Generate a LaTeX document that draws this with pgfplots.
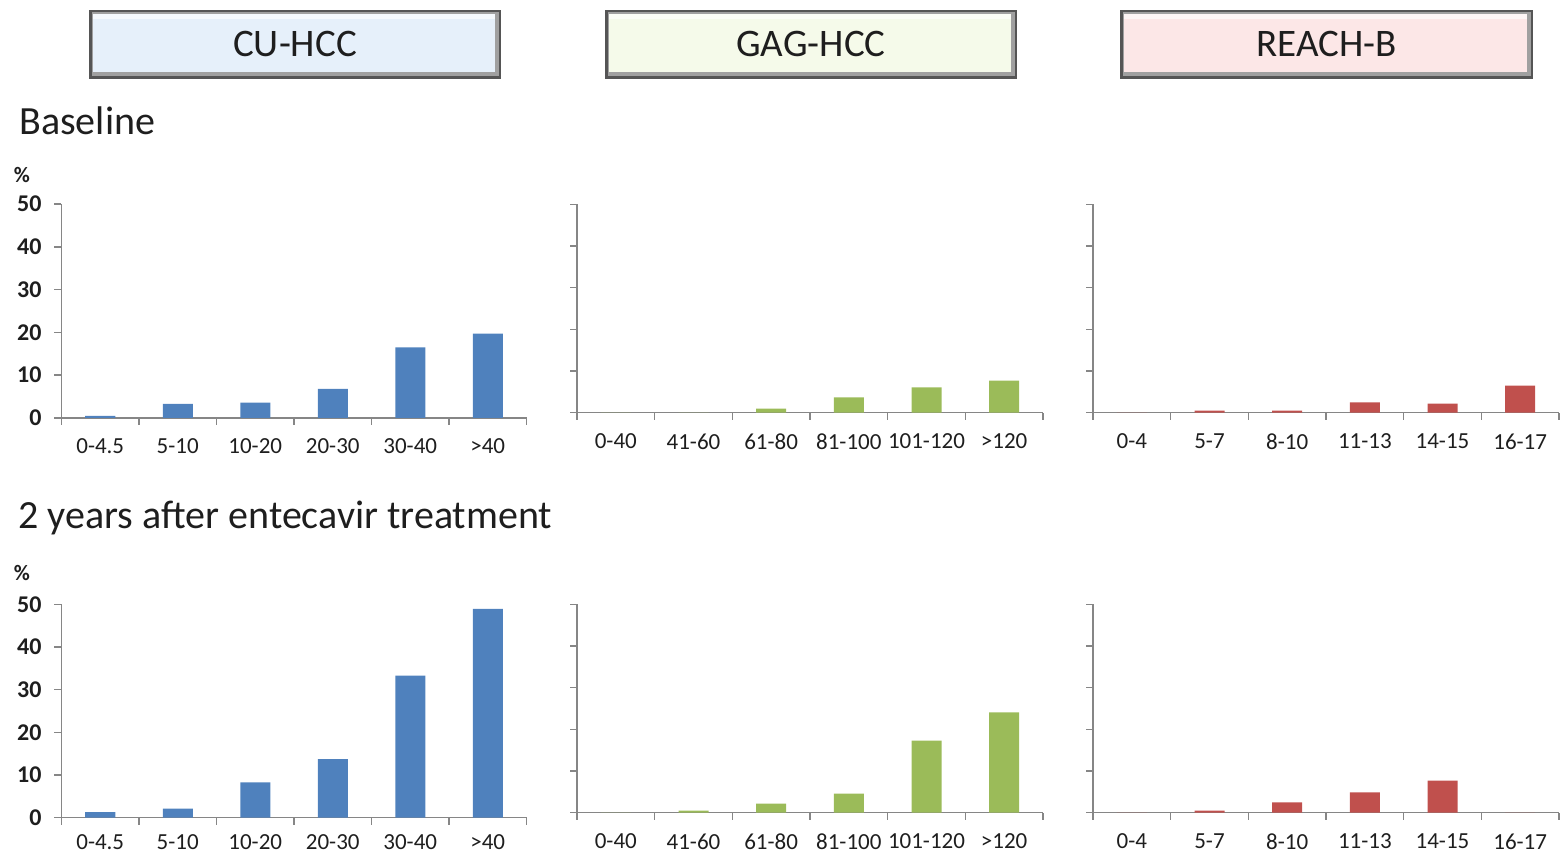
\documentclass[border=0pt]{standalone}
\usepackage{fontspec}
\setmainfont{Carlito}
\usepackage{pgfplots}
\pgfplotsset{compat=1.18}
\definecolor{barblue}{HTML}{4F81BD}
\definecolor{bargreen}{HTML}{9BBB59}
\definecolor{barred}{HTML}{C0504D}
\definecolor{axisgray}{HTML}{868686}
\definecolor{txt}{HTML}{1E1E1E}
\definecolor{boxblue}{HTML}{E6F0FA}
\definecolor{boxgreen}{HTML}{F5FAEA}
\definecolor{boxpink}{HTML}{FCE7E7}
\definecolor{boxedge}{HTML}{555555}
\definecolor{bevel}{HTML}{A0A0A0}

\pgfplotsset{
  panel/.style={
    scale only axis, anchor=south west,
    xmin=-0.5, xmax=5.5, ymin=0, ymax=50,
    axis x line*=bottom, axis y line*=left,
    axis line style={draw=axisgray, line width=0.7pt},
    xtick={-0.5,0.5,...,5.5}, x tick label as interval,
    ytick={0,10,...,50},
    tick align=outside, major tick length=3.5pt,
    tick style={draw=axisgray, line width=0.7pt},
    ybar, bar width=15pt,
    /pgf/number format/assume math mode=true,
    xticklabel style={font=\fontsize{11.5}{13}\selectfont, text=txt, yshift=-3.5pt},
    yticklabel style={font=\bfseries\fontsize{12}{14}\selectfont, text=txt, xshift=-3pt},
    clip=false,
  },
  cu/.style={panel, width=232.5pt, xticklabels={0-4.5,5-10,10-20,20-30,30-40,>40}},
  gag/.style={panel, width=233pt, yticklabels={}, xticklabels={0-40,41-60,61-80,81-100,101-120,>120}},
  reach/.style={panel, width=233pt, yticklabels={}, xticklabels={0-4,5-7,8-10,11-13,14-15,16-17}},
}

\begin{document}
\begin{tikzpicture}
\path[use as bounding box] (0,0) rectangle (781pt,428pt);

% ---------- Baseline ----------
\begin{axis}[cu, height=107pt, at={(30.75pt,219pt)}]
\addplot[fill=barblue, draw=none] coordinates {(0,0.5) (1,3.3) (2,3.6) (3,6.8) (4,16.5) (5,19.7)};
\end{axis}
\begin{axis}[gag, height=104.2pt, at={(288.5pt,221.65pt)}]
\addplot[fill=bargreen, draw=none] coordinates {(0,0) (1,0) (2,1.0) (3,3.7) (4,6.1) (5,7.7)};
\end{axis}
\begin{axis}[reach, height=104.2pt, at={(546.5pt,221.65pt)}]
\addplot[fill=barred, draw=none] coordinates {(0,0) (1,0.5) (2,0.5) (3,2.5) (4,2.2) (5,6.5)};
\end{axis}

% ---------- 2 years ----------
\begin{axis}[cu, height=106.7pt, at={(30.75pt,19.15pt)},
  xticklabel style={yshift=2pt}]
\addplot[fill=barblue, draw=none] coordinates {(0,1.3) (1,2.1) (2,8.3) (3,13.7) (4,33.3) (5,48.9)};
\end{axis}
\begin{axis}[gag, height=104.2pt, at={(288.5pt,21.65pt)}]
\addplot[fill=bargreen, draw=none] coordinates {(0,0) (1,0.5) (2,2.2) (3,4.6) (4,17.3) (5,24.1)};
\end{axis}
\begin{axis}[reach, height=104.2pt, at={(546.5pt,21.65pt)}]
\addplot[fill=barred, draw=none] coordinates {(0,0) (1,0.5) (2,2.5) (3,4.9) (4,7.7) (5,0)};
\end{axis}

\begin{scope}[x=0.5pt, y=-0.5pt, shift={(0,428pt)}]
  % header boxes
  \foreach \xa/\xb/\col/\lab in {89/501/boxblue/CU-HCC, 605/1017/boxgreen/GAG-HCC, 1120/1533/boxpink/REACH-B}{
    \fill[boxedge] (\xa,10) rectangle (\xb,79);
    \fill[bevel] (\xa+2.5,12.5) rectangle (\xb-2.5,76.5);
    \fill[\col] (\xa+4,14) rectangle (\xb-6,72);
    \fill[white, opacity=0.6] (\xa+4,14.5) rectangle (\xb-6,19);
    \node[font=\fontsize{19.5}{22}\selectfont, text=txt] at ({(\xa+\xb)/2},44) {\lab};
  }
  \node[anchor=west, font=\fontsize{20}{22}\selectfont, text=txt, inner sep=0pt] at (19,121) {Baseline};
  \node[anchor=west, font=\fontsize{20}{22}\selectfont, text=txt, inner sep=0pt] at (18,518) {2 years after entecavir treatment};
  \node[font=\bfseries\fontsize{11}{13}\selectfont, text=txt] at (22,175) {\%};
  \node[font=\bfseries\fontsize{11}{13}\selectfont, text=txt] at (22,573) {\%};
\end{scope}
\end{tikzpicture}
\end{document}
